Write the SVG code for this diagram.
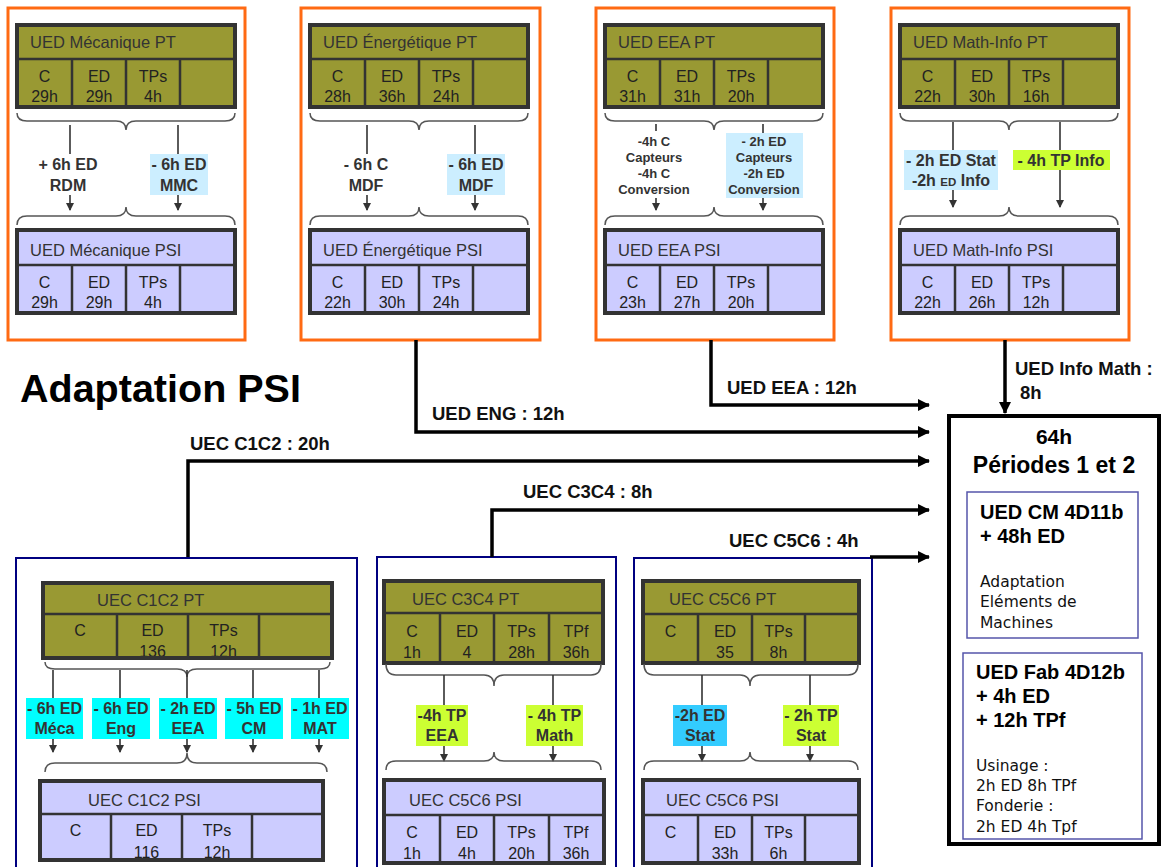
<svg xmlns="http://www.w3.org/2000/svg" width="1168" height="867" viewBox="0 0 1168 867">
<defs>
<style>
.ob{fill:#fff;stroke:#ff6a13;stroke-width:3}
.nb{fill:#fff;stroke:#000080;stroke-width:2}
.pt{fill:#999933}
.psi{fill:#ccccff}
.tb{fill:none;stroke:#333;stroke-width:4}
.dv{stroke:#333;stroke-width:2.5;fill:none}
.tt{font-family:"Liberation Sans",Arial,sans-serif;font-size:16.5px;fill:#333}
.tc{font-family:"Liberation Sans",Arial,sans-serif;font-size:16px;fill:#222;text-anchor:middle}
.lb{font-family:"Liberation Sans",Arial,sans-serif;font-size:16px;font-weight:bold;fill:#333;text-anchor:middle}
.ls{font-family:"Liberation Sans",Arial,sans-serif;font-size:13px;font-weight:bold;fill:#333;text-anchor:middle}
.br{fill:none;stroke:#555;stroke-width:1.5}
.ar{stroke:#333;stroke-width:1.6;fill:none}
.cn{stroke:#000;stroke-width:3.5;fill:none}
.cl{font-family:"Liberation Sans",Arial,sans-serif;font-size:18.5px;font-weight:bold;fill:#111}
.bt{font-family:"Liberation Sans",Arial,sans-serif;font-weight:bold;fill:#000}
.cs{font-family:"DejaVu Sans",sans-serif;font-size:15.5px;fill:#111}
</style>
<marker id="sa" markerWidth="8" markerHeight="8" refX="7" refY="4" orient="auto" markerUnits="userSpaceOnUse"><path d="M0,0 L8,4 L0,8 z" fill="#333"/></marker>
<marker id="ah" markerWidth="12" markerHeight="12" refX="11" refY="6" orient="auto" markerUnits="userSpaceOnUse"><path d="M0,0 L12,6 L0,12 z" fill="#000"/></marker>
</defs>
<rect width="1168" height="867" fill="#fff"/>

<text x="20" y="402" class="bt" font-size="39.5">Adaptation PSI</text>

<!-- Box 1 -->
<g id="ued-meca">
<rect class="ob" x="8" y="8" width="237" height="332"/>
<rect class="pt" x="17" y="25" width="218" height="82"/>
<text class="tt" x="30" y="48">UED Mécanique PT</text>
<text class="tc" x="44.5" y="82">C</text><text class="tc" x="44.5" y="102">29h</text>
<text class="tc" x="99" y="82">ED</text><text class="tc" x="99" y="102">29h</text>
<text class="tc" x="153" y="82">TPs</text><text class="tc" x="153" y="102">4h</text>
<path class="dv" d="M17,59H235M72,59V107M126,59V107M180,59V107"/>
<rect class="tb" x="17" y="25" width="218" height="82"/>
<path class="br" d="M17,113 Q17,121 27,121 L116,121 Q126,121 126,130 Q126,121 136,121 L225,121 Q235,121 235,113"/>
<path class="ar" d="M70,125V210" marker-end="url(#sa)"/>
<path class="ar" d="M178,125V210" marker-end="url(#sa)"/>
<rect x="30" y="154" width="78" height="41" fill="#fff"/>
<text class="lb" x="68" y="170">+ 6h ED</text><text class="lb" x="68" y="191">RDM</text>
<rect x="150" y="154" width="58" height="41" fill="#cceeff"/>
<text class="lb" x="179" y="170">- 6h ED</text><text class="lb" x="179" y="191">MMC</text>
<path class="br" d="M17,225 Q17,216 27,216 L116,216 Q126,216 126,207 Q126,216 136,216 L225,216 Q235,216 235,225"/>
<rect class="psi" x="17" y="230" width="218" height="83"/>
<text class="tt" x="30" y="256">UED Mécanique PSI</text>
<text class="tc" x="44.5" y="288">C</text><text class="tc" x="44.5" y="308">29h</text>
<text class="tc" x="99" y="288">ED</text><text class="tc" x="99" y="308">29h</text>
<text class="tc" x="153" y="288">TPs</text><text class="tc" x="153" y="308">4h</text>
<path class="dv" d="M17,265H235M72,265V313M126,265V313M180,265V313"/>
<rect class="tb" x="17" y="230" width="218" height="83"/>
</g>

<!-- Box 2 -->
<g id="ued-energ">
<rect class="ob" x="301" y="8" width="239" height="332"/>
<rect class="pt" x="310" y="25" width="218" height="82"/>
<text class="tt" x="323" y="48">UED Énergétique PT</text>
<text class="tc" x="337.5" y="82">C</text><text class="tc" x="337.5" y="102">28h</text>
<text class="tc" x="392" y="82">ED</text><text class="tc" x="392" y="102">36h</text>
<text class="tc" x="446" y="82">TPs</text><text class="tc" x="446" y="102">24h</text>
<path class="dv" d="M310,59H528M365,59V107M419,59V107M473,59V107"/>
<rect class="tb" x="310" y="25" width="218" height="82"/>
<path class="br" d="M310,113 Q310,121 320,121 L409,121 Q419,121 419,130 Q419,121 429,121 L518,121 Q528,121 528,113"/>
<path class="ar" d="M367,125V210" marker-end="url(#sa)"/>
<path class="ar" d="M475,125V210" marker-end="url(#sa)"/>
<rect x="332" y="154" width="70" height="41" fill="#fff"/>
<text class="lb" x="366" y="170">- 6h C</text><text class="lb" x="366" y="191">MDF</text>
<rect x="447" y="154" width="58" height="41" fill="#cceeff"/>
<text class="lb" x="476" y="170">- 6h ED</text><text class="lb" x="476" y="191">MDF</text>
<path class="br" d="M310,225 Q310,216 320,216 L409,216 Q419,216 419,207 Q419,216 429,216 L518,216 Q528,216 528,225"/>
<rect class="psi" x="310" y="230" width="218" height="83"/>
<text class="tt" x="323" y="256">UED Énergétique PSI</text>
<text class="tc" x="337.5" y="288">C</text><text class="tc" x="337.5" y="308">22h</text>
<text class="tc" x="392" y="288">ED</text><text class="tc" x="392" y="308">30h</text>
<text class="tc" x="446" y="288">TPs</text><text class="tc" x="446" y="308">24h</text>
<path class="dv" d="M310,265H528M365,265V313M419,265V313M473,265V313"/>
<rect class="tb" x="310" y="230" width="218" height="83"/>
</g>

<!-- Box 3 -->
<g id="ued-eea">
<rect class="ob" x="596" y="8" width="238" height="332"/>
<rect class="pt" x="605" y="25" width="218" height="82"/>
<text class="tt" x="618" y="48">UED EEA PT</text>
<text class="tc" x="632.5" y="82">C</text><text class="tc" x="632.5" y="102">31h</text>
<text class="tc" x="687" y="82">ED</text><text class="tc" x="687" y="102">31h</text>
<text class="tc" x="741" y="82">TPs</text><text class="tc" x="741" y="102">20h</text>
<path class="dv" d="M605,59H823M660,59V107M714,59V107M768,59V107"/>
<rect class="tb" x="605" y="25" width="218" height="82"/>
<path class="br" d="M605,113 Q605,121 615,121 L704,121 Q714,121 714,130 Q714,121 724,121 L813,121 Q823,121 823,113"/>
<path class="ar" d="M656,124V210" marker-end="url(#sa)"/>
<path class="ar" d="M763,124V210" marker-end="url(#sa)"/>
<rect x="612" y="131" width="86" height="67" fill="#fff"/>
<text class="ls" x="654" y="146">-4h C</text><text class="ls" x="654" y="162">Capteurs</text>
<text class="ls" x="654" y="178">-4h C</text><text class="ls" x="654" y="194" fill="#000">Conversion</text>
<rect x="726" y="133" width="77" height="65" fill="#cceeff"/>
<text class="ls" x="764" y="146">- 2h ED</text><text class="ls" x="764" y="162">Capteurs</text>
<text class="ls" x="764" y="178">-2h ED</text><text class="ls" x="764" y="194">Conversion</text>
<path class="br" d="M605,225 Q605,216 615,216 L704,216 Q714,216 714,207 Q714,216 724,216 L813,216 Q823,216 823,225"/>
<rect class="psi" x="605" y="230" width="218" height="83"/>
<text class="tt" x="618" y="256">UED EEA PSI</text>
<text class="tc" x="632.5" y="288">C</text><text class="tc" x="632.5" y="308">23h</text>
<text class="tc" x="687" y="288">ED</text><text class="tc" x="687" y="308">27h</text>
<text class="tc" x="741" y="288">TPs</text><text class="tc" x="741" y="308">20h</text>
<path class="dv" d="M605,265H823M660,265V313M714,265V313M768,265V313"/>
<rect class="tb" x="605" y="230" width="218" height="83"/>
</g>

<!-- Box 4 -->
<g id="ued-mathinfo">
<rect class="ob" x="891" y="8" width="238" height="332"/>
<rect class="pt" x="900" y="25" width="218" height="82"/>
<text class="tt" x="913" y="48">UED Math-Info PT</text>
<text class="tc" x="927.5" y="82">C</text><text class="tc" x="927.5" y="102">22h</text>
<text class="tc" x="982" y="82">ED</text><text class="tc" x="982" y="102">30h</text>
<text class="tc" x="1036" y="82">TPs</text><text class="tc" x="1036" y="102">16h</text>
<path class="dv" d="M900,59H1118M955,59V107M1009,59V107M1063,59V107"/>
<rect class="tb" x="900" y="25" width="218" height="82"/>
<path class="br" d="M900,113 Q900,121 910,121 L999,121 Q1009,121 1009,130 Q1009,121 1019,121 L1108,121 Q1118,121 1118,113"/>
<path class="ar" d="M953,122V207" marker-end="url(#sa)"/>
<path class="ar" d="M1060,122V207" marker-end="url(#sa)"/>
<rect x="904" y="150" width="94" height="40" fill="#cceeff"/>
<text class="lb" x="951" y="166" font-size="15">- 2h ED Stat</text>
<text class="lb" x="951" y="186" font-size="15" fill="#000">-2h <tspan font-size="11.5" fill="#333">ED</tspan> Info</text>
<rect x="1013" y="150" width="97" height="20" fill="#ccff33"/>
<text class="lb" x="1061" y="166" font-size="15">- 4h TP Info</text>
<path class="br" d="M900,225 Q900,216 910,216 L999,216 Q1009,216 1009,207 Q1009,216 1019,216 L1108,216 Q1118,216 1118,225"/>
<rect class="psi" x="900" y="230" width="218" height="83"/>
<text class="tt" x="913" y="256">UED Math-Info PSI</text>
<text class="tc" x="927.5" y="288">C</text><text class="tc" x="927.5" y="308">22h</text>
<text class="tc" x="982" y="288">ED</text><text class="tc" x="982" y="308">26h</text>
<text class="tc" x="1036" y="288">TPs</text><text class="tc" x="1036" y="308">12h</text>
<path class="dv" d="M900,265H1118M955,265V313M1009,265V313M1063,265V313"/>
<rect class="tb" x="900" y="230" width="218" height="83"/>
</g>

<!-- Box 5 -->
<g id="uec-c1c2">
<rect class="nb" x="16" y="558" width="341" height="320"/>
<rect class="pt" x="43" y="583" width="289" height="75"/>
<text class="tt" x="97" y="606">UEC C1C2 PT</text>
<text class="tc" x="80" y="636">C</text>
<text class="tc" x="152.5" y="636">ED</text><text class="tc" x="152.5" y="657">136</text>
<text class="tc" x="223.5" y="636">TPs</text><text class="tc" x="223.5" y="657">12h</text>
<path class="dv" d="M43,614H332M117,614V658M188,614V658M259,614V658"/>
<rect class="tb" x="43" y="583" width="289" height="75"/>
<path class="br" d="M45,662 Q45,669 55,669 L177,669 Q187,669 187,677 Q187,669 197,669 L320,669 Q330,669 330,662"/>
<path class="ar" d="M53,670V752" marker-end="url(#sa)"/>
<path class="ar" d="M120,670V752" marker-end="url(#sa)"/>
<path class="ar" d="M187,670V752" marker-end="url(#sa)"/>
<path class="ar" d="M253,670V752" marker-end="url(#sa)"/>
<path class="ar" d="M319,670V752" marker-end="url(#sa)"/>
<rect x="26" y="698" width="57" height="41" fill="#00ffff"/>
<text class="lb" x="54.5" y="714">- 6h ED</text><text class="lb" x="54.5" y="734">Méca</text>
<rect x="92" y="698" width="58" height="41" fill="#00ffff"/>
<text class="lb" x="121" y="714">- 6h ED</text><text class="lb" x="121" y="734">Eng</text>
<rect x="159" y="698" width="58" height="41" fill="#00ffff"/>
<text class="lb" x="188" y="714">- 2h ED</text><text class="lb" x="188" y="734">EEA</text>
<rect x="225" y="698" width="58" height="41" fill="#00ffff"/>
<text class="lb" x="254" y="714">- 5h ED</text><text class="lb" x="254" y="734">CM</text>
<rect x="291" y="698" width="58" height="41" fill="#00ffff"/>
<text class="lb" x="320" y="714">- 1h ED</text><text class="lb" x="320" y="734">MAT</text>
<path class="br" d="M45,772 Q45,763 55,763 L177,763 Q187,763 187,753 Q187,763 197,763 L317,763 Q327,763 327,772"/>
<rect class="psi" x="40" y="781" width="283" height="79"/>
<text class="tt" x="88" y="806">UEC C1C2 PSI</text>
<text class="tc" x="75.5" y="836">C</text>
<text class="tc" x="146.5" y="836">ED</text><text class="tc" x="146.5" y="858">116</text>
<text class="tc" x="217" y="836">TPs</text><text class="tc" x="217" y="858">12h</text>
<path class="dv" d="M40,814H323M111,814V860M182,814V860M252,814V860"/>
<rect class="tb" x="40" y="781" width="283" height="79"/>
</g>

<!-- Box 6 -->
<g id="uec-c3c4">
<rect class="nb" x="377" y="557" width="239" height="320"/>
<rect class="pt" x="384" y="581" width="219" height="82"/>
<text class="tt" x="412" y="605">UEC C3C4 PT</text>
<text class="tc" x="412" y="637">C</text><text class="tc" x="412" y="658">1h</text>
<text class="tc" x="467" y="637">ED</text><text class="tc" x="467" y="658">4</text>
<text class="tc" x="521.5" y="637">TPs</text><text class="tc" x="521.5" y="658">28h</text>
<text class="tc" x="576" y="637">TPf</text><text class="tc" x="576" y="658">36h</text>
<path class="dv" d="M384,613H603M440,613V663M494,613V663M549,613V663"/>
<rect class="tb" x="384" y="581" width="219" height="82"/>
<path class="br" d="M386,664 Q386,675 396,675 L484,675 Q494,675 494,686 Q494,675 504,675 L591,675 Q601,675 601,664"/>
<path class="ar" d="M444,675V761" marker-end="url(#sa)"/>
<path class="ar" d="M553,675V761" marker-end="url(#sa)"/>
<rect x="416" y="705" width="52" height="41" fill="#ccff33"/>
<text class="lb" x="442" y="721">-4h TP</text><text class="lb" x="442" y="741">EEA</text>
<rect x="526" y="705" width="57" height="41" fill="#ccff33"/>
<text class="lb" x="554.5" y="721">- 4h TP</text><text class="lb" x="554.5" y="741">Math</text>
<path class="br" d="M386,770 Q386,761 396,761 L484,761 Q494,761 494,752 Q494,761 504,761 L591,761 Q601,761 601,770"/>
<rect class="psi" x="384" y="780" width="220" height="83"/>
<text class="tt" x="409" y="806">UEC C5C6 PSI</text>
<text class="tc" x="412" y="838">C</text><text class="tc" x="412" y="859">1h</text>
<text class="tc" x="467" y="838">ED</text><text class="tc" x="467" y="859">4h</text>
<text class="tc" x="521.5" y="838">TPs</text><text class="tc" x="521.5" y="859">20h</text>
<text class="tc" x="576" y="838">TPf</text><text class="tc" x="576" y="859">36h</text>
<path class="dv" d="M384,815H604M440,815V863M494,815V863M549,815V863"/>
<rect class="tb" x="384" y="780" width="220" height="83"/>
</g>

<!-- Box 7 -->
<g id="uec-c5c6">
<rect class="nb" x="634" y="558" width="238" height="320"/>
<rect class="pt" x="643" y="581" width="216" height="82"/>
<text class="tt" x="669" y="605">UEC C5C6 PT</text>
<text class="tc" x="670.5" y="637">C</text>
<text class="tc" x="725" y="637">ED</text><text class="tc" x="725" y="658">35</text>
<text class="tc" x="778.5" y="637">TPs</text><text class="tc" x="778.5" y="658">8h</text>
<path class="dv" d="M643,614H859M698,614V663M752,614V663M805,614V663"/>
<rect class="tb" x="643" y="581" width="216" height="82"/>
<path class="br" d="M644,664 Q644,675 654,675 L740,675 Q750,675 750,686 Q750,675 760,675 L848,675 Q858,675 858,664"/>
<path class="ar" d="M702,675V761" marker-end="url(#sa)"/>
<path class="ar" d="M810,675V761" marker-end="url(#sa)"/>
<rect x="673" y="705" width="54" height="41" fill="#33ccff"/>
<text class="lb" x="700" y="721">-2h ED</text><text class="lb" x="700" y="741">Stat</text>
<rect x="783" y="705" width="56" height="41" fill="#ccff33"/>
<text class="lb" x="811" y="721">- 2h TP</text><text class="lb" x="811" y="741">Stat</text>
<path class="br" d="M644,770 Q644,761 654,761 L740,761 Q750,761 750,752 Q750,761 760,761 L848,761 Q858,761 858,770"/>
<rect class="psi" x="643" y="780" width="216" height="83"/>
<text class="tt" x="666" y="806">UEC C5C6 PSI</text>
<text class="tc" x="670.5" y="838">C</text>
<text class="tc" x="725" y="838">ED</text><text class="tc" x="725" y="859">33h</text>
<text class="tc" x="778.5" y="838">TPs</text><text class="tc" x="778.5" y="859">6h</text>
<path class="dv" d="M643,815H859M698,815V863M752,815V863M805,815V863"/>
<rect class="tb" x="643" y="780" width="216" height="83"/>
</g>

<!-- Target box -->
<g id="periodes">
<rect x="949" y="416" width="210" height="428" fill="#fff" stroke="#000" stroke-width="4"/>
<text class="bt" x="1054" y="444" font-size="21" text-anchor="middle">64h</text>
<text class="bt" x="1054" y="473" font-size="23" text-anchor="middle">Périodes 1 et 2</text>
<rect x="967" y="492" width="171" height="146" fill="none" stroke="#5555aa" stroke-width="1.5"/>
<text class="bt" x="980" y="519" font-size="20">UED CM 4D11b</text>
<text class="bt" x="980" y="543" font-size="20">+ 48h ED</text>
<text class="cs" x="980" y="587">Adaptation</text>
<text class="cs" x="980" y="607">Eléments de</text>
<text class="cs" x="980" y="628">Machines</text>
<rect x="963" y="653" width="179" height="186" fill="none" stroke="#5555aa" stroke-width="1.5"/>
<text class="bt" x="976" y="679" font-size="20">UED Fab 4D12b</text>
<text class="bt" x="976" y="703" font-size="20">+ 4h ED</text>
<text class="bt" x="976" y="727" font-size="20">+ 12h TPf</text>
<text class="cs" x="976" y="771">Usinage :</text>
<text class="cs" x="976" y="791">2h ED 8h TPf</text>
<text class="cs" x="976" y="811">Fonderie :</text>
<text class="cs" x="976" y="832">2h ED 4h Tpf</text>
</g>

<!-- Connectors -->
<g id="connectors">
<path class="cn" d="M416,340V432H929" marker-end="url(#ah)"/>
<path class="cn" d="M711,340V405H929" marker-end="url(#ah)"/>
<path class="cn" d="M1005,340V413" marker-end="url(#ah)"/>
<path class="cn" d="M188,557V461H929" marker-end="url(#ah)"/>
<path class="cn" d="M492,557V510H929" marker-end="url(#ah)"/>
<path class="cn" d="M870,557H929" marker-end="url(#ah)"/>
<text class="cl" x="432" y="420">UED ENG : 12h</text>
<text class="cl" x="727" y="394">UED EEA : 12h</text>
<text class="cl" x="1015" y="375">UED Info Math :</text>
<text class="cl" x="1020" y="399">8h</text>
<text class="cl" x="190" y="450">UEC C1C2 : 20h</text>
<text class="cl" x="523" y="498">UEC C3C4 : 8h</text>
<text class="cl" x="729" y="547">UEC C5C6 : 4h</text>
</g>
</svg>
